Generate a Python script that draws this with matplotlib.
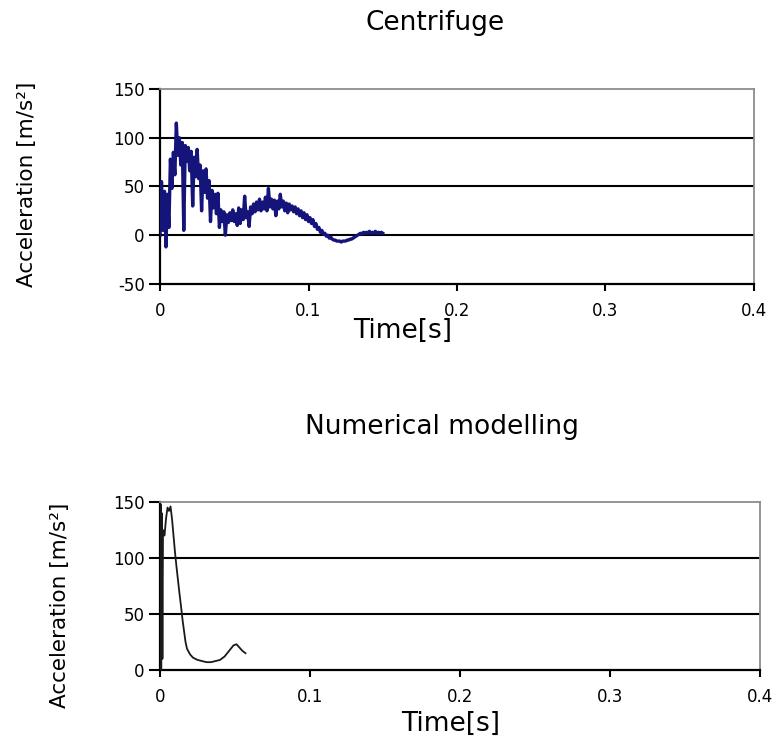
import numpy as np
import matplotlib.pyplot as plt

plt.rcParams['font.family'] = ['DejaVu Sans']
plt.rcParams['axes.unicode_minus'] = False

# Centrifuge record, sampled every 1 ms
centrifuge_step = 0.001
centrifuge_acc = [
    0, 55, 5, 45, -12, 42, 8, 78, 48, 85,
    62, 115, 82, 100, 72, 95, 5, 92, 76, 90,
    66, 86, 30, 80, 60, 88, 58, 72, 25, 66,
    44, 68, 38, 56, 14, 46, 28, 42, 22, 43,
    8, 26, 14, 24, 0, 21, 13, 23, 15, 26,
    14, 22, 10, 28, 12, 26, 16, 40, 18, 24,
    9, 29, 22, 32, 24, 34, 26, 37, 25, 34,
    27, 39, 25, 48, 29, 37, 27, 36, 20, 35,
    27, 42, 29, 35, 25, 33, 23, 32, 26, 30,
    24, 29, 22, 27, 20, 25, 18, 23, 16, 21,
    14, 18, 12, 16, 9, 12, 6, 8, 3, 5,
    1, 2, -1, 0, -3, -2, -4, -5, -5, -6,
    -6, -6, -7, -6, -6, -6, -5, -5, -4, -4,
    -3, -2, -1, 0, 1, 2, 1, 3, 2, 3,
    2, 4, 2, 3, 2, 4, 2, 3, 2, 3,
    2,
]

# Numerical modelling result
numerical_t = [0.0, 0.0004, 0.0008, 0.0012, 0.0016, 0.002, 0.003, 0.004,
               0.005, 0.006, 0.007, 0.008, 0.009, 0.010, 0.011, 0.012,
               0.013, 0.014, 0.015, 0.016, 0.017, 0.018, 0.020, 0.022,
               0.025, 0.028, 0.031, 0.034, 0.037, 0.040, 0.043, 0.046,
               0.049, 0.051, 0.053, 0.055, 0.057]
numerical_acc = [0, 148, 0, 140, 10, 125, 120, 135, 145, 142, 146, 135,
                 120, 105, 92, 80, 68, 57, 45, 35, 25, 19, 14, 11, 9, 8,
                 7, 7, 8, 9, 12, 17, 22, 23, 20, 17, 15]

x_ticks = [0, 0.1, 0.2, 0.3, 0.4]
x_labels = ["0", "0.1", "0.2", "0.3", "0.4"]
top_yticks = [-50, 0, 50, 100, 150]
bottom_yticks = [0, 50, 100, 150]

fig = plt.figure(figsize=(7.73, 7.37), dpi=100)
ax1 = fig.add_axes([0.207, 0.6147, 0.7684, 0.2646])
ax2 = fig.add_axes([0.207, 0.0909, 0.7762, 0.2280])


def style(ax, yticks):
    ax.set_xlim(0, 0.4)
    ax.set_ylim(yticks[0], yticks[-1])
    ax.set_xticks(x_ticks)
    ax.set_xticklabels(x_labels)
    ax.set_yticks(yticks)
    for y in yticks[1:-1]:
        ax.axhline(y, color='black', lw=1.5, zorder=1)
    for s in ['left', 'bottom']:
        ax.spines[s].set_color('black')
        ax.spines[s].set_linewidth(1.6)
    for s in ['top', 'right']:
        ax.spines[s].set_color('#8c8c8c')
        ax.spines[s].set_linewidth(1.3)
    ax.tick_params(axis='y', direction='out', length=8, width=1.5, labelsize=12, pad=3)
    ax.tick_params(axis='x', direction='out', length=5, width=1.5, labelsize=12, pad=8)


t_c = np.arange(len(centrifuge_acc)) * centrifuge_step
ax1.plot(t_c, centrifuge_acc, color='#14147a', lw=2.4, zorder=3)
style(ax1, top_yticks)

ax2.plot(numerical_t, numerical_acc, color='#1a1a1a', lw=1.3, zorder=3)
style(ax2, bottom_yticks)

fig.text(435 / 773, 1 - 23 / 737, "Centrifuge", fontsize=19, ha='center', va='center')
fig.text(442 / 773, 1 - 427 / 737, "Numerical modelling", fontsize=19, ha='center', va='center')
fig.text(403 / 773, 1 - 331 / 737, "Time[s]", fontsize=19, ha='center', va='center')
fig.text(451 / 773, 1 - 724 / 737, "Time[s]", fontsize=19, ha='center', va='center')
fig.text(27 / 773, 1 - 184 / 737, "Acceleration [m/s²]", fontsize=15.5, rotation=90,
         ha='center', va='center')
fig.text(60 / 773, 1 - 605 / 737, "Acceleration [m/s²]", fontsize=15.5, rotation=90,
         ha='center', va='center')

fig.savefig("out.png", dpi=100)
